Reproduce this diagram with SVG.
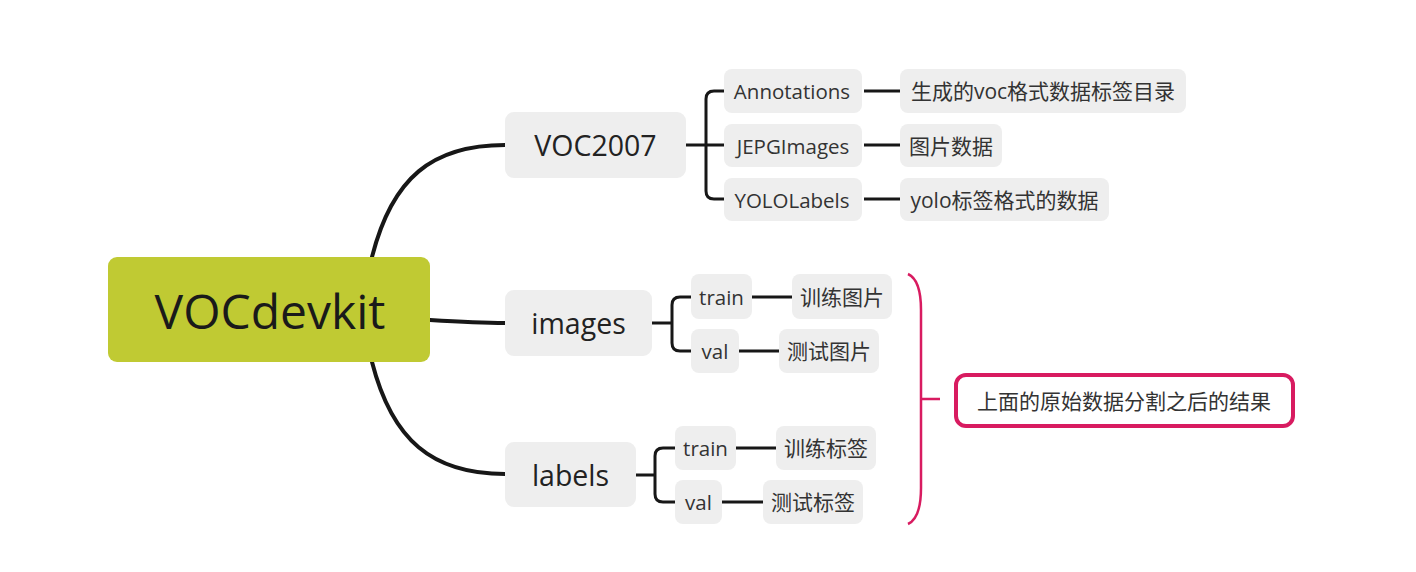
<svg xmlns="http://www.w3.org/2000/svg" width="1416" height="572" viewBox="0 0 1416 572">
<style>
text{font-family:"Open Sans","Noto Sans CJK SC",sans-serif;text-anchor:middle;dominant-baseline:central;fill:#222}
.box{fill:#eeeeee}
.l1{font-size:28.5px}
.l2{font-size:20.5px;fill:#333}
.l3{font-size:21px;fill:#333}
.conn{fill:none;stroke:#171717;stroke-width:4;stroke-linecap:round}
.thin{fill:none;stroke:#171717;stroke-width:3;stroke-linecap:butt}
.sum{fill:none;stroke:#d81b60;stroke-width:2.5}
</style>
<rect width="1416" height="572" fill="#ffffff"/>
<g id="connectors">
<path class="conn" d="M372,257 C392,178 432,145 505,145"/>
<path class="conn" d="M430,320 C462,322 480,323 505,323"/>
<path class="conn" d="M372,362 C392,440 432,474 505,474"/>
<path class="thin" d="M686,145 H724 M724,91 H714 Q706,91 706,99 V191 Q706,199 714,199 H724"/>
<path class="thin" d="M864,91 H900 M864,145 H900 M864,199 H900"/>
<path class="thin" d="M652,323 H672 M691,297 H680 Q672,297 672,305 V343 Q672,351 680,351 H691"/>
<path class="thin" d="M752,297 H792 M739,351 H779"/>
<path class="thin" d="M636,475 H655 M675,448 H663 Q655,448 655,456 V494 Q655,502 663,502 H675"/>
<path class="thin" d="M736,448 H776 M722,502 H763"/>
<path class="sum" d="M908,274 Q921,280 921,310 V488 Q921,518 908,524 M921,399 H940"/>
</g>
<g id="root"><rect x="108" y="257" width="322" height="105" rx="9" fill="#c0ca33"/><text x="270" y="310" style="font-size:48px;fill:#1a1a1a">VOCdevkit</text></g>
<g id="voc2007"><rect class="box" x="505" y="112" width="181" height="66" rx="9"/><text class="l1" x="595.5" y="145">VOC2007</text></g>
<g id="images"><rect class="box" x="505" y="290" width="147" height="66" rx="9"/><text class="l1" x="578.5" y="323">images</text></g>
<g id="labels"><rect class="box" x="505" y="442" width="131" height="65" rx="9"/><text class="l1" x="570.5" y="474.5">labels</text></g>
<g id="annotations"><rect class="box" x="724" y="69" width="138" height="44" rx="8"/><text class="l2" x="792" y="91">Annotations</text></g>
<g id="jepgimages"><rect class="box" x="724" y="124" width="138" height="43" rx="8"/><text class="l2" x="793" y="145.5">JEPGImages</text></g>
<g id="yololabels"><rect class="box" x="724" y="178" width="138" height="43" rx="8"/><text class="l2" x="792" y="199.5">YOLOLabels</text></g>
<g id="ann-desc"><rect class="box" x="900" y="69" width="286" height="44" rx="8"/><text class="l3" x="1043" y="91">生成的voc格式数据标签目录</text></g>
<g id="jepg-desc"><rect class="box" x="900" y="124" width="102" height="43" rx="8"/><text class="l3" x="951" y="145.5">图片数据</text></g>
<g id="yolo-desc"><rect class="box" x="900" y="178" width="209" height="43" rx="8"/><text class="l3" x="1004.5" y="199.5">yolo标签格式的数据</text></g>
<g id="img-train"><rect class="box" x="691" y="274" width="61" height="45" rx="8"/><text class="l2" x="721.5" y="296.5">train</text></g>
<g id="img-val"><rect class="box" x="691" y="329" width="48" height="44" rx="8"/><text class="l2" x="715" y="351">val</text></g>
<g id="img-train-desc"><rect class="box" x="792" y="274" width="100" height="45" rx="8"/><text class="l3" x="842" y="296.5">训练图片</text></g>
<g id="img-val-desc"><rect class="box" x="779" y="329" width="100" height="44" rx="8"/><text class="l3" x="829" y="351">测试图片</text></g>
<g id="lbl-train"><rect class="box" x="675" y="426" width="61" height="44" rx="8"/><text class="l2" x="705.5" y="448">train</text></g>
<g id="lbl-val"><rect class="box" x="675" y="480" width="47" height="44" rx="8"/><text class="l2" x="698.5" y="502">val</text></g>
<g id="lbl-train-desc"><rect class="box" x="776" y="426" width="100" height="44" rx="8"/><text class="l3" x="826" y="448">训练标签</text></g>
<g id="lbl-val-desc"><rect class="box" x="763" y="480" width="100" height="44" rx="8"/><text class="l3" x="813" y="502">测试标签</text></g>
<g id="summary"><rect x="956" y="375" width="337" height="51" rx="10" fill="#ffffff" stroke="#d81b60" stroke-width="4"/><text class="l3" x="1124" y="400.5">上面的原始数据分割之后的结果</text></g>
</svg>
